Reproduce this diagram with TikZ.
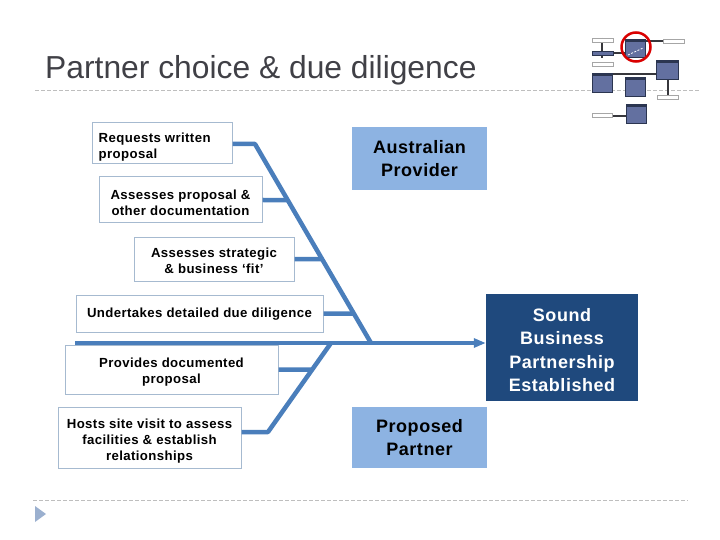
\documentclass[tikz,border=0pt]{standalone}
\usepackage{fontspec}
\setmainfont{Liberation Sans}
\newfontfamily\boxfont[LetterSpace=3]{Liberation Sans}
\usetikzlibrary{arrows.meta,calc}
\definecolor{linecol}{RGB}{74,126,187}
\definecolor{boxborder}{RGB}{166,186,208}
\definecolor{ausfill}{RGB}{141,179,226}
\definecolor{soundfill}{RGB}{31,73,125}
\definecolor{titlecol}{RGB}{64,64,70}
\definecolor{dashcol}{RGB}{190,190,190}
\definecolor{tricol}{RGB}{155,176,207}
\definecolor{iconfill}{RGB}{99,112,160}
\definecolor{icondark}{RGB}{43,53,80}
\definecolor{iconline}{RGB}{55,55,60}
\tikzset{
  smallbox/.style={draw=boxborder, line width=1pt, fill=white, inner sep=0pt},
  boxtext/.style={inner sep=0pt, align=center,
    font=\boxfont\bfseries\fontsize{13.2}{16}\selectfont},
  bigbox/.style={fill=ausfill, inner sep=0pt, align=center,
    font=\boxfont\bfseries\fontsize{18}{23.5}\selectfont},
  fish/.style={draw=linecol, line width=4.5pt},
  sepline/.style={draw=dashcol, line width=1pt, dash pattern=on 4pt off 2pt},
  ibox/.style={draw=icondark, fill=iconfill, line width=0.6pt},
  iwhite/.style={draw=gray!70, fill=white, line width=0.6pt},
  iline/.style={draw=iconline, line width=1.3pt},
}
\begin{document}
\begin{tikzpicture}[x=1pt,y=-1pt]
\useasboundingbox (0,0) rectangle (720,540);
% title and separators
\node[anchor=base west, inner sep=0pt, text=titlecol, font=\fontsize{31.8}{36}\selectfont] (title) at (45,79) {Partner choice \& due diligence};
\draw[sepline] (35,91) -- (700,91);
\draw[sepline] (33,500) -- (688,500);
\fill[tricol] (35,506) -- (46,514) -- (35,522) -- cycle;

% icon
\draw[iline] (602,38) -- (602,58);
\draw[iline] (613,53) -- (628,53);
\draw[iline] (645,41) -- (663,41);
\draw[iline] (592,74) -- (656,74);
\draw[iline] (668,78) -- (668,97);
\draw[iline] (612,116) -- (633,116);
\draw[iwhite] (592,38) rectangle (613,42);
\draw[ibox] (592,51) rectangle (613,55);
\draw[iwhite] (592,62) rectangle (613,66);
\draw[iwhite] (663,39) rectangle (684,43);
\draw[iwhite] (657,95) rectangle (678,99);
\draw[iwhite] (592,113) rectangle (612,117);
\foreach \xa/\ya/\xb/\yb in {625/39/645/57, 656/60/678/79, 592/73/612/92, 625/77/645/96, 626/104/646/123}{
  \draw[ibox] (\xa,\ya) rectangle (\xb,\yb);
  \fill[icondark] (\xa,\ya) rectangle (\xb,\ya+3);
}
\draw[white, line width=0.8pt, dash pattern=on 2pt off 1.5pt] (628,55) -- (643,48);
\draw[red!85!black, line width=2.5pt] (636,47) circle (14.5);

% boxes
\node[smallbox, minimum width=140, minimum height=41] (req) at (162,143.5) {};
\node[boxtext, anchor=west, align=left] (req-t) at ($(req.west)+(7,4)$) {Requests written\\proposal};
\node[smallbox, minimum width=163, minimum height=46] (ass1) at (180.5,200) {};
\node[boxtext] (ass1-t) at ($(ass1)+(0,2.5)$) {Assesses proposal \&\\other documentation};
\node[smallbox, minimum width=160, minimum height=44] (ass2) at (214,259) {};
\node[boxtext] (ass2-t) at ($(ass2)+(0,2)$) {Assesses strategic\\\& business ‘fit’};
\node[smallbox, minimum width=247, minimum height=37] (und) at (199.5,313.5) {};
\node[boxtext] (und-t) at ($(und)+(0,1)$) {Undertakes detailed due diligence};
\node[smallbox, minimum width=213, minimum height=49] (prov) at (171.5,369.5) {};
\node[boxtext] (prov-t) at ($(prov)+(0,2.5)$) {Provides documented\\proposal};
\node[smallbox, minimum width=183, minimum height=61] (hosts) at (149.5,437.5) {};
\node[boxtext] (hosts-t) at ($(hosts)+(0,3.5)$) {Hosts site visit to assess\\facilities \& establish\\relationships};
\node[bigbox, minimum width=135, minimum height=63] (aus) at (419.5,158.5) {Australian\\Provider};
\node[bigbox, minimum width=135, minimum height=61] (prop) at (419.5,437.5) {Proposed\\Partner};
\node[bigbox, fill=soundfill, text=white, minimum width=152, minimum height=107] (sound) at (562,347.5) {};
\node[bigbox, fill=none, text=white] (sound-t) at ($(sound)+(0,2.5)$) {Sound\\Business\\Partnership\\Established};

% fishbone
\coordinate (u0) at (255,144);
\coordinate (u1) at (371,343);
\coordinate (s0) at (75,343);
\coordinate (l0) at (331,343);
\coordinate (l1) at (268,432);
\draw[fish, line join=round] (req.east |- u0) -- (u0) -- (u1);
\draw[fish] (ass1.east) -- (intersection of u0--u1 and ass1.east--ass1.west);
\draw[fish] (ass2.east) -- (intersection of u0--u1 and ass2.east--ass2.west);
\draw[fish] (und.east) -- (intersection of u0--u1 and und.east--und.west);
\draw[fish, line join=round] (l1 -| hosts.east) -- (l1) -- (l0);
\draw[fish] (prov.east) -- (intersection of l0--l1 and prov.east--prov.west);
\draw[fish, line width=4pt, -{Triangle[length=12pt,width=9pt]}] (s0) -- (s0 -| sound.west);
\end{tikzpicture}
\end{document}
